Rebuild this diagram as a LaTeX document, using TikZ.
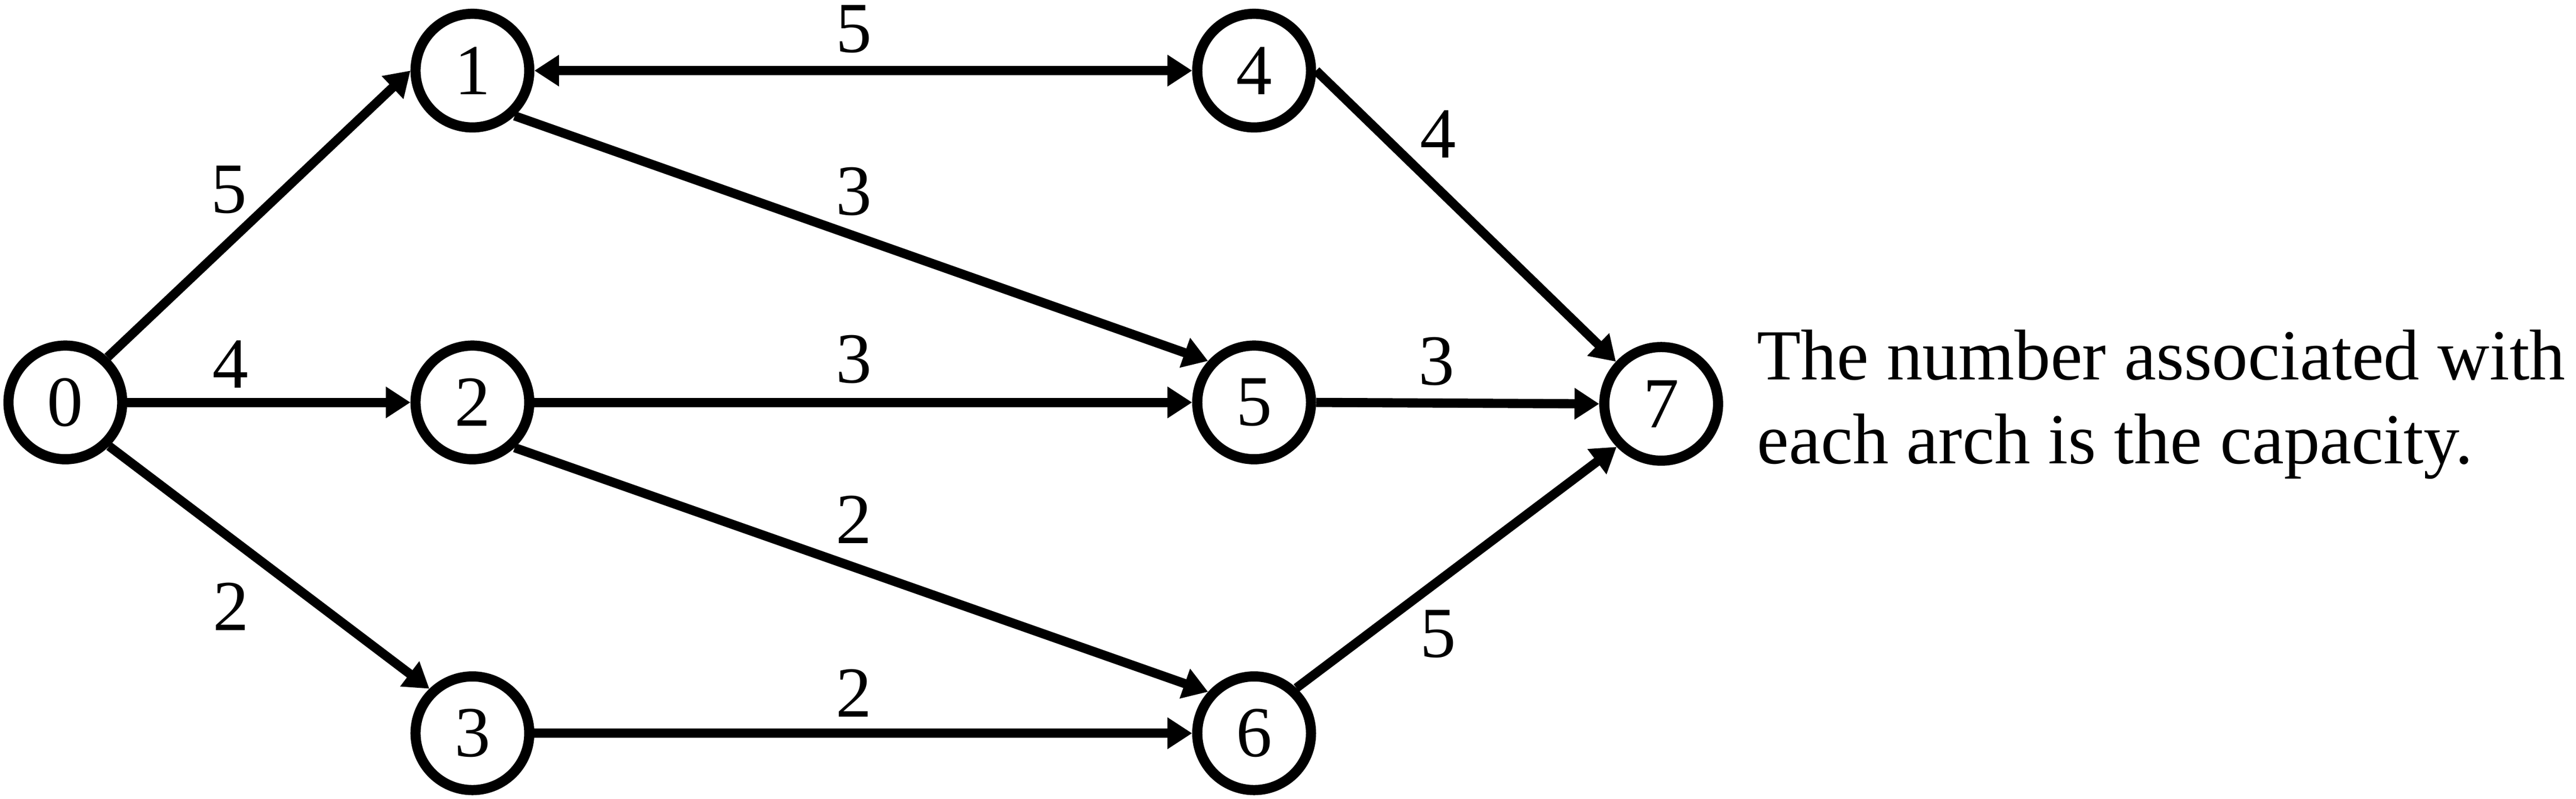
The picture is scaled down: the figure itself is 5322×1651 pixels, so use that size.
\documentclass[tikz,border=0pt]{standalone}
\usepackage{fontspec}
\setmainfont{Liberation Serif}
\usetikzlibrary{arrows.meta}
\begin{document}
\begin{tikzpicture}[x=0.2pt,y=-0.2pt,
  vert/.style={circle,draw,line width=4.2pt,minimum size=47pt,inner sep=0pt,font=\fontsize{29.7}{34}\selectfont},
  arc/.style={line width=3.8pt,-{Triangle[length=10.2pt,width=12.4pt]}},
  biarc/.style={line width=3.8pt,{Triangle[length=10.2pt,width=12.4pt]}-{Triangle[length=10.2pt,width=12.4pt]}},
  capl/.style={font=\fontsize{29.7}{34}\selectfont,inner sep=0pt},
  note/.style={font=\fontsize{29.7}{34.8}\selectfont,inner sep=0pt,anchor=base west},
]
\useasboundingbox (0,0) rectangle (5322,1651);
% vertices
\node[vert] (n0) at (135,832) {0};
\node[vert] (n1) at (976,146) {1};
\node[vert] (n2) at (976,832) {2};
\node[vert] (n3) at (976,1516) {3};
\node[vert] (n4) at (2591,146) {4};
\node[vert] (n5) at (2591,832) {5};
\node[vert] (n6) at (2591,1516) {6};
\node[vert] (n7) at (3432,835) {7};
% arcs
\draw[arc] (n0.47) -- (n1.west);
\draw[arc] (n0.east) -- (n2.west);
\draw[arc] (n0.-45) -- (n3.134);
\draw[biarc] (n1.east) -- (n4.west);
\draw[arc] (n1.-47) -- (n5.138);
\draw[arc] (n2.east) -- (n5.west);
\draw[arc] (n2.-47) -- (n6.138);
\draw[arc] (n3.east) -- (n6.west);
\draw[arc] (n4.east) -- (n7.137);
\draw[arc] (n5.east) -- (n7.west);
\draw[arc] (n6.47) -- (n7.224);
% capacities
\node[capl] (c01) at (473,392) {5};
\node[capl] (c02) at (476,753) {4};
\node[capl] (c03) at (477,1254) {2};
\node[capl] (c14) at (1764,60) {5};
\node[capl] (c15) at (1764,396) {3};
\node[capl] (c25) at (1764,743) {3};
\node[capl] (c26) at (1764,1074) {2};
\node[capl] (c36) at (1764,1433) {2};
\node[capl] (c47) at (2971,277) {4};
\node[capl] (c57) at (2968,747) {3};
\node[capl] (c67) at (2971,1311) {5};
% note
\node[note] (t1) at (3629,785) {The number associated with};
\node[note] (t2) at (3629,959) {each arch is the capacity.};
\end{tikzpicture}
\end{document}
